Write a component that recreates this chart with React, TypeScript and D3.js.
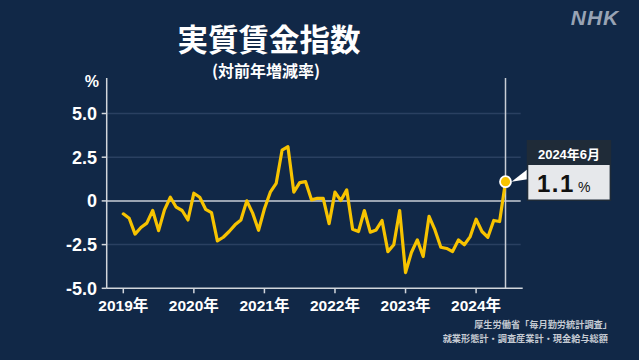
import React from "react";
import * as d3 from "d3";

const years = ["2019年", "2020年", "2021年", "2022年", "2023年", "2024年"];
const yTicks = [5, 2.5, 0, -2.5, -5];
const yTickLabels = ["5.0", "2.5", "0", "-2.5", "-5.0"];
// monthly real wage index, year-on-year %, Jan 2019 – Jun 2024
const values = [
  -0.74, -0.99, -1.9, -1.52, -1.27, -0.55, -1.7, -0.51, 0.21, -0.36, -0.55, -1.09,
  0.44, 0.21, -0.48, -0.67, -2.29, -2.08, -1.75, -1.37, -1.09, 0.0, -0.7, -1.68,
  -0.45, 0.5, 1.0, 2.9, 3.1, 0.5, 1.05, 1.1, 0.06, 0.15, 0.15, -1.3,
  0.5, 0.02, 0.63, -1.62, -1.75, -0.55, -1.79, -1.66, -1.12, -2.9, -2.51, -0.55,
  -4.1, -2.95, -2.23, -3.18, -0.88, -1.66, -2.65, -2.72, -2.9, -2.23, -2.51, -2.04,
  -1.05, -1.75, -2.08, -1.12, -1.18, 1.1,
];
const calloutDate = "2024年6月";
const calloutValue = "1.1";

const W = 639;
const H = 360;
const BG = "#112847";
const LINE = "#f7c300";
const NUM = "'Liberation Sans', Arial, 'Noto Sans CJK JP', sans-serif";
const JP = "'Noto Sans CJK JP', sans-serif";

export default function App() {
  const x = d3.scaleLinear().domain([0, 65]).range([123.3, 505.5]);
  const y = d3.scaleLinear().domain([-5, 5]).range([288.3, 113.5]);
  const line = d3
    .line<number>()
    .x((_, i) => x(i))
    .y((d) => y(d))
    .curve(d3.curveLinear);
  const last = values.length - 1;
  const lx = x(last);
  const ly = y(values[last]);
  const axisLeft = 106.7;
  const axisRight = 522.7;
  const axisBottom = y(-5);

  return (
    <svg
      width={W}
      height={H}
      style={{ position: "fixed", left: 0, top: 0 }}
      xmlns="http://www.w3.org/2000/svg"
    >
      <rect x={0} y={0} width={W} height={H} fill={BG} />

      {/* title */}
      <text x={269} y={50.5} textAnchor="middle" fill="#ffffff" fontFamily={JP} fontWeight={700} fontSize={30.5}>
        実質賃金指数
      </text>
      <text x={266} y={77} textAnchor="middle" fill="#ffffff" fontFamily={JP} fontWeight={700} fontSize={16}>
        (対前年増減率)
      </text>

      {/* NHK logo */}
      <text x={595} y={25} textAnchor="middle" fill="#98a3b4" fontFamily={NUM} fontWeight={700} fontStyle="italic" fontSize={21} letterSpacing={1}>
        NHK
      </text>

      {/* grid */}
      {yTicks.map((t) =>
        t === 0 || t === -5 ? null : (
          <line key={"g" + t} x1={axisLeft} x2={520.7} y1={y(t)} y2={y(t)} stroke="#2a4061" strokeWidth={1.5} />
        )
      )}
      <line x1={axisLeft} x2={520.7} y1={y(0)} y2={y(0)} stroke="#c9ced6" strokeWidth={1.5} />

      {/* vertical marker line */}
      <line x1={lx} x2={lx} y1={78} y2={axisBottom} stroke="#c9ced6" strokeWidth={1.5} />

      {/* axes */}
      <line x1={axisLeft} x2={axisLeft} y1={78} y2={axisBottom} stroke="#d2d6dc" strokeWidth={1.5} />
      <line x1={axisLeft} x2={axisRight} y1={axisBottom} y2={axisBottom} stroke="#d2d6dc" strokeWidth={1.5} />

      {/* y ticks */}
      {yTicks.map((t, i) => (
        <g key={"y" + t}>
          <line x1={axisLeft - 5} x2={axisLeft} y1={y(t)} y2={y(t)} stroke="#d2d6dc" strokeWidth={1.5} />
          <text x={97} y={y(t) + 6.5} textAnchor="end" fill="#ffffff" fontFamily={NUM} fontWeight={700} fontSize={18}>
            {yTickLabels[i]}
          </text>
        </g>
      ))}
      <text x={99} y={87} textAnchor="end" fill="#ffffff" fontFamily={NUM} fontWeight={700} fontSize={16}>
        %
      </text>

      {/* x ticks */}
      {years.map((lab, i) => (
        <g key={lab}>
          <line x1={x(i * 12)} x2={x(i * 12)} y1={axisBottom} y2={axisBottom + 5} stroke="#d2d6dc" strokeWidth={1.5} />
          <text x={x(i * 12)} y={310.5} textAnchor="middle" fill="#ffffff" fontFamily={NUM} fontWeight={700} fontSize={15.5}>
            {lab}
          </text>
        </g>
      ))}

      {/* data line */}
      <path d={line(values) || ""} fill="none" stroke={LINE} strokeWidth={3.2} strokeLinejoin="round" strokeLinecap="round" />
      <circle cx={lx} cy={ly} r={5.5} fill={LINE} stroke="#ffffff" strokeWidth={1.8} />

      {/* callout */}
      <polygon points={`${lx + 6},${ly} 527.5,${ly - 12.5} 527.5,${ly - 2.5}`} fill="#ffffff" />
      <rect x={526.7} y={140} width={84.5} height={61} fill="#1f2b38" />
      <rect x={528.3} y={165} width={81.3} height={34.5} fill="#e6e8eb" />
      <text x={569} y={158.5} textAnchor="middle" fill="#ffffff" fontFamily={NUM} fontWeight={700} fontSize={13}>
        {calloutDate}
      </text>
      <text x={537} y={192} fill="#111111" fontFamily={NUM} fontWeight={700} fontSize={24} letterSpacing={1.5}>
        {calloutValue}
        <tspan fontSize={14} dx={3} fontWeight={400}>%</tspan>
      </text>

      {/* source */}
      <text x={612} y={327.5} textAnchor="end" fill="#c6cbd3" fontFamily={JP} fontWeight={700} fontSize={9.2}>
        厚生労働省「毎月勤労統計調査」
      </text>
      <text x={608} y={341.5} textAnchor="end" fill="#c6cbd3" fontFamily={JP} fontWeight={700} fontSize={9.2}>
        就業形態計・調査産業計・現金給与総額
      </text>
    </svg>
  );
}
